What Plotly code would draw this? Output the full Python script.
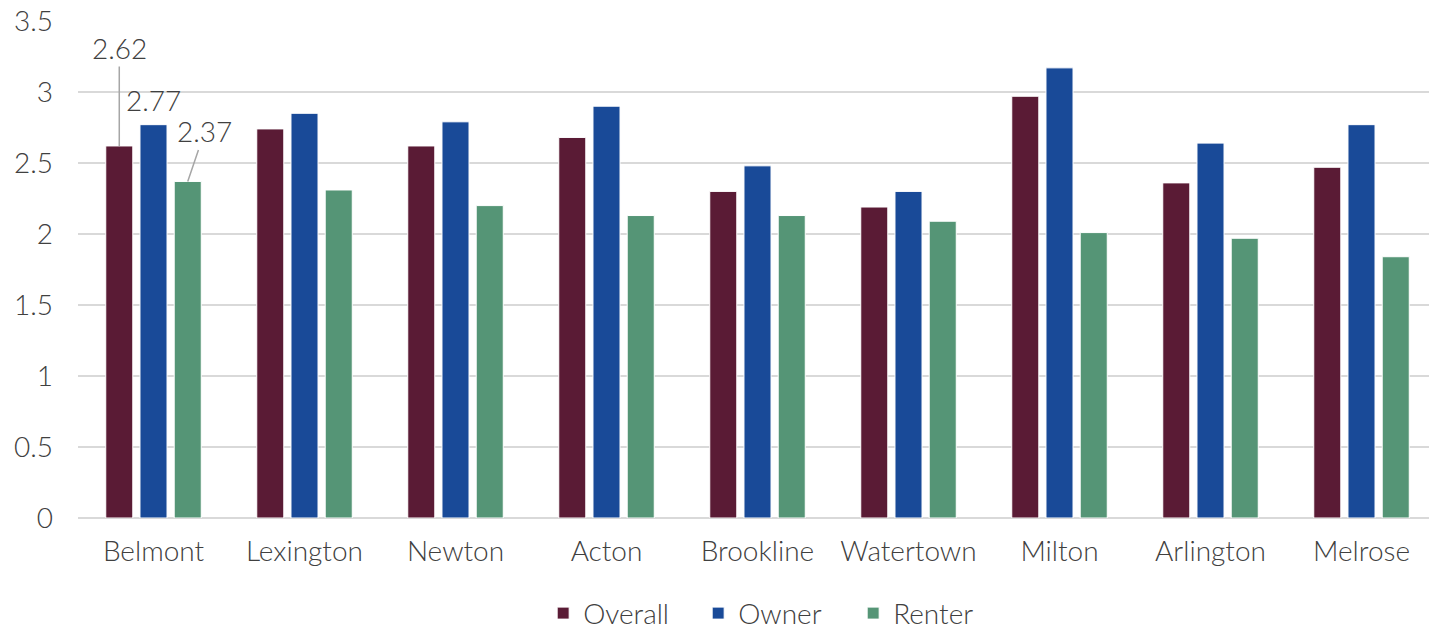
import plotly.graph_objects as go

towns = ["Belmont", "Lexington", "Newton", "Acton", "Brookline",
         "Watertown", "Milton", "Arlington", "Melrose"]
overall = [2.62, 2.74, 2.62, 2.68, 2.30, 2.19, 2.97, 2.36, 2.47]
owner = [2.77, 2.85, 2.79, 2.90, 2.48, 2.30, 3.17, 2.64, 2.77]
renter = [2.37, 2.31, 2.20, 2.13, 2.13, 2.09, 2.01, 1.97, 1.84]

series = [("Overall", overall, "#5A1B35"),
          ("Owner", owner, "#194A98"),
          ("Renter", renter, "#559576")]

FONT = "Lato"
TEXT = "#404040"
SIZE = 28
BARGAP = 0.32


def font():
    return dict(family=FONT, size=SIZE, color=TEXT, weight=300)


fig = go.Figure()
for name, vals, color in series:
    fig.add_trace(go.Bar(
        x=towns, y=vals, name=name,
        marker=dict(color=color, line=dict(color="#FFFFFF", width=1)),
    ))

# value callouts on the Belmont group, placed at each bar's centre
slot = (1 - BARGAP) / 3
fig.add_annotation(x=-slot, y=overall[0], text=f"{overall[0]:.2f}",
                   showarrow=True, arrowhead=0, arrowwidth=1.5,
                   arrowcolor="#A6A6A6", ax=0, ay=-98, standoff=0,
                   font=font())
fig.add_annotation(x=0.0, y=owner[0], text=f"{owner[0]:.2f}",
                   showarrow=False, yanchor="bottom", yshift=6,
                   font=font())
fig.add_annotation(x=slot, y=renter[0], text=f"{renter[0]:.2f}",
                   showarrow=True, arrowhead=0, arrowwidth=1.5,
                   arrowcolor="#A6A6A6", ax=17, ay=-50, standoff=0,
                   font=font())

fig.update_layout(
    width=1429, height=629,
    paper_bgcolor="white", plot_bgcolor="white",
    margin=dict(l=78, r=0, t=21, b=111, autoexpand=False),
    barmode="group", bargap=BARGAP, bargroupgap=0.21,
    font=font(),
    showlegend=True,
    legend=dict(orientation="h", x=0.5164, xanchor="center",
                y=-0.192, yanchor="middle",
                font=font(),
                entrywidth=110, entrywidthmode="pixels",
                itemwidth=30),
)
# the last category runs slightly past the right edge of the canvas
fig.update_xaxes(type="category", range=[-0.5, 8.447],
                 showline=False, ticks="",
                 tickfont=font(), ticklabelstandoff=14)
fig.update_yaxes(range=[0, 3.5], dtick=0.5, showgrid=True,
                 gridcolor="#D9D9D9", gridwidth=2,
                 zeroline=True, zerolinecolor="#D9D9D9", zerolinewidth=2,
                 tickfont=font(), ticklabelstandoff=24, showline=False)

fig.write_html("out.html")
